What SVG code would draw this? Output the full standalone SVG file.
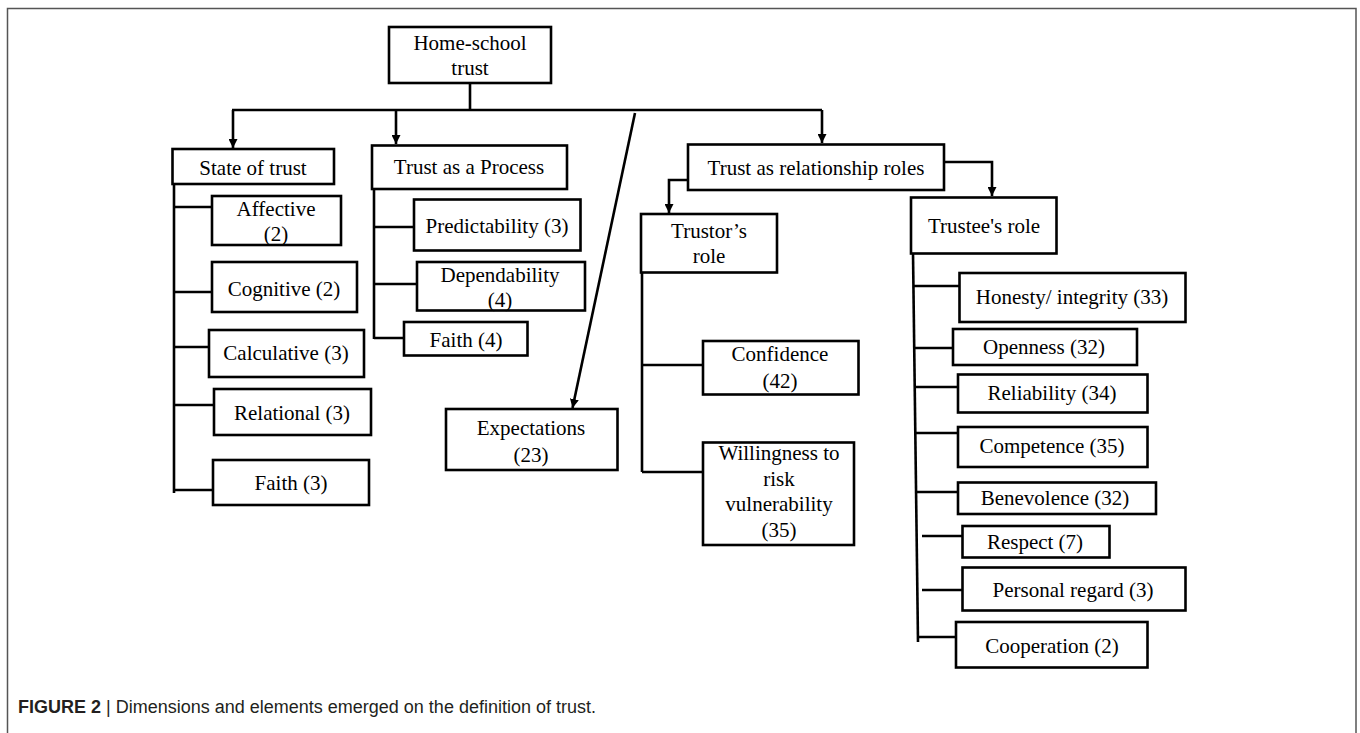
<svg xmlns="http://www.w3.org/2000/svg" width="1360" height="733" viewBox="0 0 1360 733">
<style>
.box{fill:#fff;stroke:#000;stroke-width:2.6}
.ln{fill:none;stroke:#000;stroke-width:2.6}
.t{font-family:"Liberation Serif","Times New Roman",serif;font-size:21px;fill:#000;text-anchor:middle}
.cap{font-family:"Liberation Sans",Arial,sans-serif;font-size:18px;fill:#231f20}
</style>
<defs>
<marker id="ah" viewBox="0 0 10 10" refX="10" refY="5" markerWidth="9" markerHeight="9" markerUnits="userSpaceOnUse" orient="auto">
<path d="M0,0 L10,5 L0,10 Z" fill="#000"/>
</marker>
</defs>
<rect width="1360" height="733" fill="#fff"/>
<path d="M7.5,733 V8.5 H1356 V733" fill="none" stroke="#555" stroke-width="1.5"/>

<g id="connectors">
<path class="ln" d="M470,83 V110"/>
<path class="ln" d="M232,110 H822"/>
<path class="ln" d="M233,110 V148" marker-end="url(#ah)"/>
<path class="ln" d="M396,110 V144" marker-end="url(#ah)"/>
<path class="ln" d="M822,110 V143" marker-end="url(#ah)"/>
<path class="ln" d="M635,113 L572.5,408" marker-end="url(#ah)"/>
<path class="ln" d="M688,180 H669 V213" marker-end="url(#ah)"/>
<path class="ln" d="M944,162 H992 V196" marker-end="url(#ah)"/>
<path class="ln" d="M174,184 V493"/>
<path class="ln" d="M174,207 H212 M174,292 H212 M174,347 H209 M174,405 H214 M174,490 H213"/>
<path class="ln" d="M374,189 V339"/>
<path class="ln" d="M374,227 H414 M374,284 H417 M374,338 H404"/>
<path class="ln" d="M642,272 V472"/>
<path class="ln" d="M642,365 H703 M642,472 H703"/>
<path class="ln" d="M913,253 L918,642"/>
<path class="ln" d="M913.5,286 H959 M914.5,348 H953 M914.5,387 H958 M915,433 H958 M916,492 H958 M922,536 H962 M922,590 H962 M917.5,637 H956"/>
</g>

<g id="home"><rect class="box" x="389" y="27" width="162" height="56"/><text class="t" x="470" y="50">Home-school</text><text class="t" x="470" y="75">trust</text></g>
<g id="state"><rect class="box" x="172.5" y="149" width="161.5" height="35"/><text class="t" x="253" y="175">State of trust</text></g>
<g id="process"><rect class="box" x="372" y="145.5" width="195" height="43.5"/><text class="t" x="469" y="174">Trust as a Process</text></g>
<g id="relroles"><rect class="box" x="688" y="144.5" width="256" height="45.5"/><text class="t" x="816" y="175">Trust as relationship roles</text></g>

<g id="affective"><rect class="box" x="212" y="196" width="129" height="49"/><text class="t" x="276" y="216">Affective</text><text class="t" x="276" y="241">(2)</text></g>
<g id="cognitive"><rect class="box" x="212" y="262" width="145" height="50"/><text class="t" x="284" y="296">Cognitive (2)</text></g>
<g id="calculative"><rect class="box" x="209" y="330" width="155" height="47"/><text class="t" x="286" y="360">Calculative (3)</text></g>
<g id="relational"><rect class="box" x="214" y="389" width="157" height="46"/><text class="t" x="292" y="420">Relational (3)</text></g>
<g id="faith3"><rect class="box" x="213" y="460" width="156" height="45"/><text class="t" x="291" y="490">Faith (3)</text></g>

<g id="predictability"><rect class="box" x="414" y="199.5" width="166.5" height="51"/><text class="t" x="497" y="233">Predictability (3)</text></g>
<g id="dependability"><rect class="box" x="417" y="262" width="168" height="48.5"/><text class="t" x="500" y="282">Dependability</text><text class="t" x="500" y="307">(4)</text></g>
<g id="faith4"><rect class="box" x="404" y="322" width="123.5" height="33.5"/><text class="t" x="466" y="347">Faith (4)</text></g>

<g id="expectations"><rect class="box" x="446" y="409" width="171.5" height="61"/><text class="t" x="531" y="435">Expectations</text><text class="t" x="531" y="462">(23)</text></g>

<g id="trustor"><rect class="box" x="641" y="214" width="136" height="58.5"/><text class="t" x="709" y="238">Trustor’s</text><text class="t" x="709" y="263">role</text></g>
<g id="confidence"><rect class="box" x="703" y="341" width="155.5" height="53.5"/><text class="t" x="780" y="361">Confidence</text><text class="t" x="780" y="388">(42)</text></g>
<g id="willingness"><rect class="box" x="703" y="442.5" width="151" height="102.5"/><text class="t" x="779" y="460">Willingness to</text><text class="t" x="779" y="486">risk</text><text class="t" x="779" y="511">vulnerability</text><text class="t" x="779" y="537">(35)</text></g>

<g id="trustee"><rect class="box" x="911" y="197.5" width="145.5" height="56"/><text class="t" x="984" y="233">Trustee's role</text></g>
<g id="honesty"><rect class="box" x="959.5" y="273" width="226" height="49"/><text class="t" x="1072" y="304">Honesty/ integrity (33)</text></g>
<g id="openness"><rect class="box" x="953" y="329" width="184" height="36"/><text class="t" x="1044" y="354">Openness (32)</text></g>
<g id="reliability"><rect class="box" x="958" y="374.5" width="189.5" height="38"/><text class="t" x="1052" y="400">Reliability (34)</text></g>
<g id="competence"><rect class="box" x="958" y="427" width="189.5" height="40"/><text class="t" x="1052" y="453">Competence (35)</text></g>
<g id="benevolence"><rect class="box" x="958" y="482.5" width="198" height="31.5"/><text class="t" x="1055" y="505">Benevolence (32)</text></g>
<g id="respect"><rect class="box" x="962.5" y="526" width="147" height="31.5"/><text class="t" x="1035" y="549">Respect (7)</text></g>
<g id="personal"><rect class="box" x="962.5" y="567.5" width="223" height="43"/><text class="t" x="1073" y="597">Personal regard (3)</text></g>
<g id="cooperation"><rect class="box" x="956" y="622" width="191.5" height="45.5"/><text class="t" x="1052" y="653">Cooperation (2)</text></g>

<text class="cap" x="18" y="713"><tspan font-weight="bold">FIGURE 2</tspan> | Dimensions and elements emerged on the definition of trust.</text>
</svg>
